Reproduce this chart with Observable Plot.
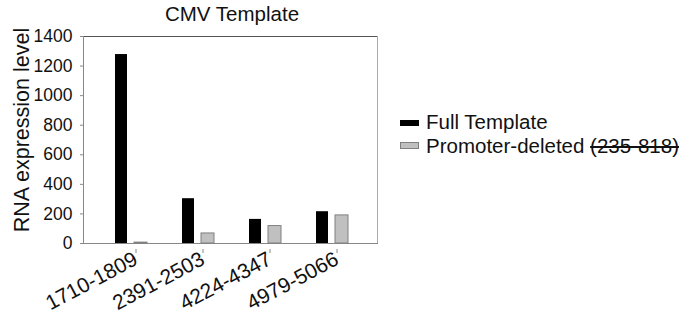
<!DOCTYPE html>
<html>
<head>
<meta charset="utf-8">
<script src="https://cdn.jsdelivr.net/npm/d3@7"></script>
<script src="https://cdn.jsdelivr.net/npm/@observablehq/plot@0.6"></script>
<style>
  body { margin: 0; background: #fff; font-family: "Liberation Sans", Arial, sans-serif; }
  #wrap { position: relative; width: 692px; height: 322px; }
  .ov { position: absolute; color: #111; white-space: nowrap; }
  .sw { position: absolute; box-sizing: border-box; }
</style>
</head>
<body>
<div id="wrap"></div>
<script>
const categories = ["1710-1809", "2391-2503", "4224-4347", "4979-5066"];
const fullTemplate = [1278, 303, 163, 215];
const promoterDeleted = [6, 68, 118, 190];
const yTicks = [0, 200, 400, 600, 800, 1000, 1200, 1400];
const seriesNames = ["Full Template", "Promoter-deleted "];
const seriesStruck = "(235-818)";
const titleText = "CMV Template";
const yLabel = "RNA expression level";

const fullData = categories.map((c, i) => ({category: c, value: fullTemplate[i]}));
const delData = categories.map((c, i) => ({category: c, value: promoterDeleted[i]}));

const chart = Plot.plot({
  width: 692,
  height: 322,
  marginTop: 36,
  marginBottom: 79,
  marginLeft: 83,
  marginRight: 315,
  style: {fontFamily: "Liberation Sans, Arial, sans-serif", color: "#111", background: "#fff"},
  x: {domain: categories, range: [96.5, 364.5], padding: 0},
  y: {domain: [0, 1400]},
  marks: [
    Plot.frame({anchor: "top", stroke: "#555"}),
    Plot.frame({anchor: "right", stroke: "#aaa"}),
    Plot.frame({anchor: "left", stroke: "#888"}),
    Plot.frame({anchor: "bottom", stroke: "#888"}),
    Plot.barY(fullData, {x: "category", y: "value", fill: "#000", insetLeft: 18, insetRight: 37}),
    Plot.barY(delData, {x: "category", y: "value", fill: "#c0c0c0", stroke: "#808080", strokeWidth: 1, insetLeft: 37, insetRight: 17}),
    Plot.axisY(yTicks, {tickSize: 3, tickPadding: 8, fontSize: 17.5, tickFormat: d => String(d), label: null, stroke: "#888"}),
    Plot.axisX({tickSize: 4, tickPadding: 4, fontSize: 21, tickRotate: -28, dx: 5, dy: 6, label: null, stroke: "#888"})
  ]
});
const wrap = document.getElementById("wrap");
wrap.appendChild(chart);

function ov(html, css) {
  const d = document.createElement("div");
  d.className = "ov";
  d.innerHTML = html;
  Object.assign(d.style, css);
  wrap.appendChild(d);
  return d;
}
// title
ov(titleText, {left: "0px", width: "464px", textAlign: "center", top: "2px", fontSize: "20.5px", lineHeight: "24px"});
// y label
ov(yLabel, {left: "22px", top: "130px", fontSize: "21.5px", lineHeight: "24px", transform: "translate(-50%,-50%) rotate(-90deg)"});
// legend
const s1 = document.createElement("div");
s1.className = "sw";
Object.assign(s1.style, {left: "400px", top: "120px", width: "19px", height: "6px", background: "#000"});
wrap.appendChild(s1);
const s2 = document.createElement("div");
s2.className = "sw";
Object.assign(s2.style, {left: "400px", top: "142px", width: "19px", height: "7px", background: "#c0c0c0", border: "1px solid #808080"});
wrap.appendChild(s2);
ov(seriesNames[0], {left: "426px", top: "110px", fontSize: "20.5px", lineHeight: "24px"});
ov(seriesNames[1] + "<s>" + seriesStruck + "</s>", {left: "426px", top: "134px", fontSize: "20.5px", lineHeight: "24px"});
</script>
</body>
</html>
